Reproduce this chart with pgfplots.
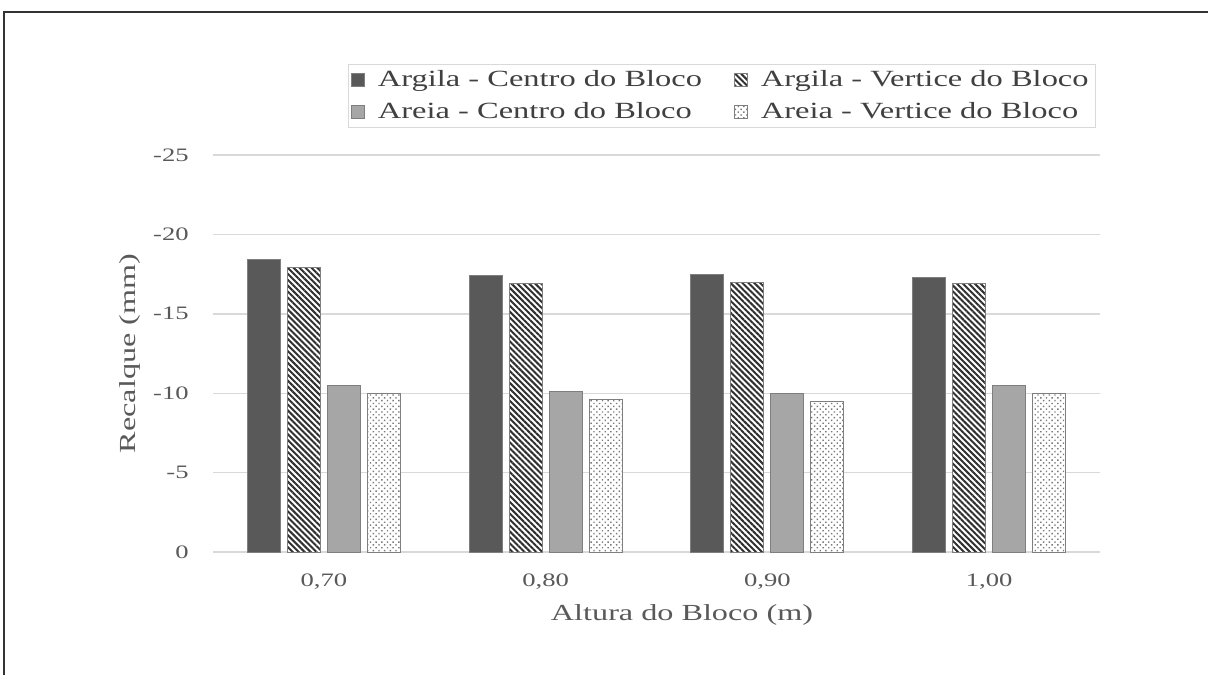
\documentclass[border=0pt]{standalone}
\usepackage{fontspec}
\setmainfont{Liberation Serif}[FakeStretch=1.4]
\usepackage{pgfplots}
\pgfplotsset{compat=1.18}
\usetikzlibrary{patterns.meta}

\definecolor{argilaC}{HTML}{595959}
\definecolor{areiaC}{HTML}{A6A6A6}
\definecolor{txt}{HTML}{595959}
\definecolor{legtxt}{HTML}{404040}
\definecolor{gridc}{HTML}{D9D9D9}
\definecolor{edge}{HTML}{7F7F7F}
\definecolor{hatchc}{HTML}{303030}
\definecolor{dotc}{HTML}{7A7A7A}

\begin{document}
\begin{tikzpicture}
\useasboundingbox (0,0) rectangle (604pt,337.5pt);
% outer frame
\draw[line width=0.9pt, black!80] (2pt,0) -- (2pt,331.5pt) -- (604pt,331.5pt);
\begin{axis}[
  at={(106.5pt,61.5pt)}, anchor=south west,
  scale only axis, width=443.5pt, height=198.5pt,
  ybar=3.5pt, bar width=16.5pt,
  y dir=reverse,
  ymin=-25, ymax=0,
  xmin=-0.5, xmax=3.5,
  xtick={0,1,2,3},
  xticklabels={{0,70},{0,80},{0,90},{1,00}},
  ytick={-25,-20,-15,-10,-5,0},
  yticklabels={-25,-20,-15,-10,-5,0},
  ymajorgrids, grid style={gridc, line width=0.7pt},
  axis line style={draw=none},
  major tick length=0pt,
  tick label style={font=\fontsize{9.5pt}{11pt}\selectfont, text=txt},
  xticklabel style={anchor=center, yshift=-15pt},
  yticklabel style={anchor=east, inner sep=0pt, xshift=-12pt},
  xlabel={Altura do Bloco (m)},
  ylabel={Recalque (mm)},
  label style={font=\fontsize{11.5pt}{13pt}\selectfont, text=txt},
  xlabel style={at={(axis description cs:0.5,0)}, anchor=center, yshift=-31.5pt, xshift=12.75pt},
  ylabel style={at={(axis description cs:0,0.5)}, anchor=center, rotate=0, yshift=41.5pt},
  legend columns=2,
  legend cell align=left,
  legend image code/.code={\draw[#1, draw=edge, line width=0.4pt] (0pt,-3.2pt) rectangle (6.5pt,3.2pt);},
  legend style={at={(axis description cs:0.9955,1)}, anchor=south east, yshift=13.5pt,
    draw=gridc, fill=white, font=\fontsize{11.6pt}{13pt}\selectfont, text=legtxt,
    inner xsep=1.5pt, inner ysep=1pt, row sep=2.5pt,
    /tikz/every odd column/.append style={column sep=4.5pt},
    /tikz/every even column/.append style={column sep=14pt}},
]
\addplot[fill=argilaC, draw=edge, line width=0.5pt]
  coordinates {(0,-18.4) (1,-17.4) (2,-17.5) (3,-17.3)};
\addplot[fill=white, draw=edge, line width=0.5pt,
  postaction={pattern={Lines[angle=-45, distance=2.1pt, line width=1pt]}, pattern color=hatchc}]
  coordinates {(0,-17.9) (1,-16.9) (2,-17.0) (3,-16.9)};
\addplot[fill=areiaC, draw=edge, line width=0.5pt]
  coordinates {(0,-10.5) (1,-10.1) (2,-10.0) (3,-10.5)};
\addplot[fill=white, draw=edge, line width=0.5pt,
  postaction={pattern={Dots[distance=2pt, radius=0.5pt, angle=45]}, pattern color=dotc}]
  coordinates {(0,-10.0) (1,-9.6) (2,-9.5) (3,-10.0)};
\legend{Argila - Centro do Bloco, Argila - Vertice do Bloco, Areia - Centro do Bloco, Areia - Vertice do Bloco}
\end{axis}
\end{tikzpicture}
\end{document}
